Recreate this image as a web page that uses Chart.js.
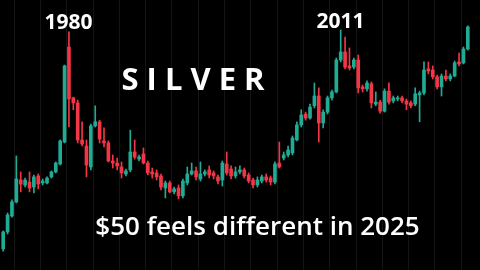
<!DOCTYPE html>
<html>
<head>
<meta charset="utf-8">
<script src="https://cdn.jsdelivr.net/npm/chart.js@4.4.1/dist/chart.umd.min.js"></script>
<style>
  html, body { margin: 0; padding: 0; background: #000; }
  #wrap { position: relative; width: 480px; height: 270px; overflow: hidden; background: #000; }
  .lbl { position: absolute; color: #fff; font-family: "Open Sans", sans-serif; white-space: nowrap; line-height: 1; transform: translateX(-50%); }
</style>
</head>
<body>
<div id="wrap">
  <canvas id="chart" width="480" height="270"></canvas>
  <div class="lbl" style="left:68.5px; top:11px; font-size:21px; font-weight:700;">1980</div>
  <div class="lbl" style="left:340.5px; top:10px; font-size:21px; font-weight:700;">2011</div>
  <div class="lbl" style="left:193px; top:63px; font-size:31px; font-weight:700;">S I L V E R</div>
  <div class="lbl" style="left:257.5px; top:212px; font-size:26px; font-weight:600;">$50 feels different in 2025</div>
</div>
<script>
// half-year candles, 1972 H2 .. 2025 H2 (USD / oz, log scale)
const FIRST_YEAR = 1972;

const open = [
  1.37, 1.81, 2.35, 2.96, 4.24, 3.91, 4.10, 3.78, 4.53, 4.04,
  4.04, 4.46, 4.84, 5.51, 7.90, 37.5, 16.3, 15.0, 8.17, 7.40,
  5.25, 10.3, 11.0, 8.04, 7.78, 5.79, 5.60, 5.25, 4.68, 5.00,
  6.71, 5.98, 6.50, 5.60, 4.84, 4.76, 4.53, 3.72, 4.04, 3.49,
  3.72, 3.27, 4.04, 4.68, 4.92, 4.31, 4.68, 5.00, 4.76, 4.46,
  4.24, 5.51, 5.08, 4.53, 4.84, 5.00, 4.60, 4.24, 3.91, 4.17,
  4.46, 4.38, 4.10, 5.60, 6.08, 6.39, 6.60, 8.17, 10.45, 12.5,
  11.7, 14.3, 16.8, 10.8, 12.9, 16.3, 17.95, 30.3, 34.6, 27.5,
  27.0, 30.3, 19.5, 18.9, 20.5, 14.7, 15.2, 13.1, 18.2, 15.5,
  16.0, 16.3, 15.5, 15.0, 14.7, 17.1, 17.66, 26.2, 25.7, 23.0,
  19.5, 23.3, 22.2, 23.3, 29.35, 28.9, 36.3
];
const high = [
  1.84, 2.47, 3.06, 6.29, 4.84, 4.38, 4.84, 4.60, 4.68, 4.31,
  4.46, 4.92, 5.70, 8.17, 27.9, 48.0, 16.5, 15.7, 11.0, 8.17,
  10.6, 14.3, 11.3, 9.95, 8.04, 6.39, 6.08, 5.70, 5.08, 9.60,
  8.17, 6.39, 7.17, 5.79, 5.16, 5.00, 4.68, 4.17, 4.17, 3.78,
  3.91, 4.31, 5.25, 5.60, 5.25, 5.70, 5.00, 5.34, 4.92, 4.60,
  5.79, 6.71, 5.34, 5.25, 5.34, 5.16, 4.76, 4.38, 4.46, 4.60,
  4.68, 4.53, 5.70, 7.90, 6.71, 7.40, 8.73, 11.0, 13.4, 12.9,
  14.7, 20.8, 19.2, 13.4, 16.8, 18.5, 31.3, 49.6, 44.2, 36.9,
  31.3, 32.9, 20.1, 21.5, 21.15, 17.95, 15.7, 18.9, 20.8, 16.8,
  16.8, 16.8, 16.0, 15.5, 19.2, 18.2, 29.35, 29.35, 27.5, 23.7,
  24.1, 25.7, 24.1, 29.8, 34.0, 37.5, 53.0
];
const low = [
  1.32, 1.75, 2.31, 2.91, 3.49, 3.78, 3.49, 3.43, 3.66, 3.91,
  3.97, 4.38, 4.76, 5.42, 7.78, 10.1, 13.4, 7.78, 7.40, 4.46,
  5.00, 10.1, 7.78, 7.29, 5.70, 5.16, 5.00, 4.38, 4.53, 4.84,
  5.98, 5.79, 5.51, 4.60, 4.38, 4.24, 3.60, 3.16, 3.43, 3.37,
  3.11, 3.16, 3.91, 4.60, 4.24, 4.17, 4.53, 4.38, 4.31, 3.97,
  3.84, 4.60, 4.31, 4.38, 4.68, 4.38, 4.04, 3.72, 3.78, 4.04,
  4.10, 3.91, 3.97, 5.16, 5.89, 6.18, 6.39, 8.04, 10.1, 11.3,
  11.5, 13.8, 7.90, 9.95, 12.5, 15.7, 17.66, 29.35, 26.2, 25.7,
  26.2, 17.66, 17.95, 18.2, 13.8, 14.3, 12.7, 12.9, 14.7, 15.0,
  15.5, 15.0, 13.4, 13.8, 14.3, 11.0, 17.1, 24.1, 22.2, 18.9,
  16.8, 21.5, 21.5, 23.0, 27.5, 28.4, 35.7
];
const close = [
  1.81, 2.39, 2.96, 4.31, 3.97, 4.24, 3.72, 4.46, 3.97, 4.17,
  4.38, 4.84, 5.60, 8.04, 27.5, 16.0, 15.0, 8.17, 7.65, 5.42,
  10.3, 11.0, 8.30, 7.78, 5.79, 5.60, 5.34, 4.76, 4.92, 6.71,
  6.18, 6.18, 5.60, 4.76, 4.68, 4.46, 3.78, 4.04, 3.49, 3.66,
  3.27, 4.17, 4.68, 4.92, 4.46, 4.68, 4.84, 4.60, 4.53, 4.17,
  5.60, 4.76, 4.53, 4.84, 5.00, 4.53, 4.17, 3.91, 4.24, 4.46,
  4.24, 4.10, 5.51, 5.25, 6.39, 6.94, 8.44, 10.45, 12.3, 11.7,
  14.0, 16.8, 10.8, 12.9, 16.3, 17.95, 30.3, 34.6, 27.0, 26.6,
  30.3, 19.2, 18.9, 20.8, 15.0, 15.2, 13.1, 18.2, 15.2, 16.3,
  16.3, 15.5, 14.7, 14.3, 17.4, 17.66, 25.7, 25.3, 23.0, 19.5,
  23.3, 22.2, 23.3, 28.9, 28.4, 36.3, 52.1
];

const labels = open.map((_, i) => {
  const half = i + 1; // first candle is 1972 H2
  return (FIRST_YEAR + Math.floor(half / 2)) + (half % 2 === 0 ? ' H1' : ' H2');
});

const UP = '#22ab94';
const DOWN = '#f23645';
const colors = open.map((o, i) => (close[i] >= o ? UP : DOWN));

new Chart(document.getElementById('chart'), {
  type: 'bar',
  data: {
    labels,
    datasets: [{
      label: 'wick',
      data: low.map((l, i) => [l, high[i]]),
      backgroundColor: colors,
      barThickness: 1,
      grouped: false,
      order: 2,
    }, {
      label: 'body',
      data: open.map((o, i) => [o, close[i]]),
      backgroundColor: colors,
      barThickness: 3,
      minBarLength: 1,
      grouped: false,
      order: 1,
    }]
  },
  options: {
    responsive: false,
    animation: false,
    layout: { padding: { left: 1, right: 10, top: 0, bottom: 0 } },
    plugins: { legend: { display: false }, tooltip: { enabled: false } },
    scales: {
      x: {
        ticks: { display: false },
        border: { display: false },
        grid: {
          drawTicks: false,
          color: ctx => (ctx.index % 6 === 3 ? '#141414' : 'rgba(0,0,0,0)'),
        },
      },
      y: {
        type: 'logarithmic',
        min: 0.97,
        max: 81,
        display: false,
      }
    }
  }
});
</script>
</body>
</html>
